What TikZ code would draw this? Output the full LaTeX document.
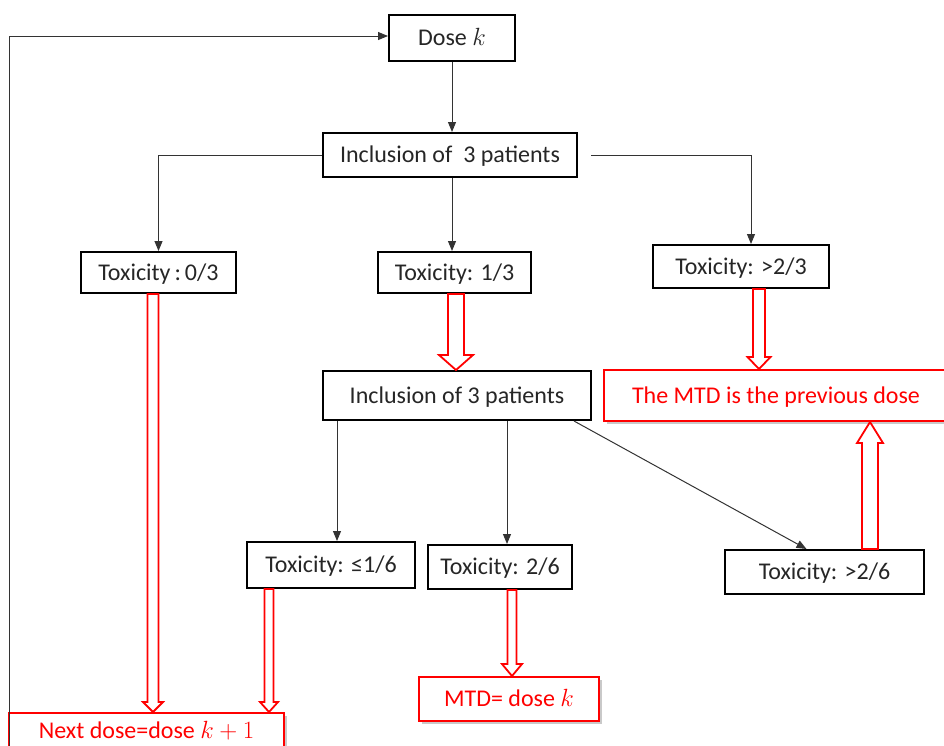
\documentclass[tikz,border=0pt]{standalone}
\usepackage{fontspec}
\setmainfont{Carlito}
\usetikzlibrary{calc,arrows.meta,shadows}
\newcommand\blockarr[5]{%
  \path[redarr] let \p1=#1, \p2=#2, \n1={\y2+ifthenelse(\y2>\y1,-1,1)*#5} in
  (\x1-#3,\y1) -- (\x1-#3,\n1) -- (\x1-#4,\n1) -- (\x1,\y2) -- (\x1+#4,\n1) -- (\x1+#3,\n1) -- (\x1+#3,\y1) -- cycle;}
\begin{document}
\begin{tikzpicture}[x=1pt,y=-1pt,
  txt/.style={font=\fontsize{24}{28}\selectfont, text height=17.5pt, text depth=2pt, inner sep=0pt},
  bbox/.style={txt, draw=black, line width=2pt, fill=white, text=black!85},
  rbox/.style={txt, draw=red, line width=2pt, fill=white, text=red,
     drop shadow={shadow xshift=3pt, shadow yshift=-3pt, opacity=0.3, fill=black!70}},
  conn/.style={draw=black!80, line width=1pt, -{Triangle[length=10pt,width=8pt]}},
  redarr/.style={draw=red, line width=1.8pt, fill=white, line join=miter}]
\useasboundingbox (0,0) rectangle (944,745);
% black boxes
\node[bbox, minimum width=126pt, minimum height=46pt] (dose) at (452,38) {Dose $k$};
\node[bbox, minimum width=254pt, minimum height=44pt] (inc1) at (450,155) {Inclusion of \ 3 patients};
\node[bbox, minimum width=155pt, minimum height=41pt] (t03) at (158.5,272.5) {Toxicity\,:\,0/3};
\node[bbox, minimum width=153pt, minimum height=41pt] (t13) at (454.5,272.5) {Toxicity: 1/3};
\node[bbox, minimum width=176pt, minimum height=43pt] (t23a) at (741,266.5) {Toxicity: >2/3};
\node[bbox, minimum width=268pt, minimum height=49pt] (inc2) at (457,395.5) {Inclusion of 3 patients};
\node[bbox, minimum width=168pt, minimum height=46pt] (tle16) at (331,565) {Toxicity: ≤1/6};
\node[bbox, minimum width=144pt, minimum height=44pt] (t26) at (500,567) {Toxicity: 2/6};
\node[bbox, minimum width=199pt, minimum height=44pt] (t26b) at (824.5,572) {Toxicity: >2/6};
% red boxes
\node[rbox, minimum width=344pt, minimum height=51pt] (mtdprev) at (776,395.5) {The MTD is the previous dose};
\node[rbox, minimum width=180pt, minimum height=44pt] (mtdk) at (509,699) {MTD= dose $k$};
\node[rbox, minimum width=275pt, minimum height=36pt] (next) at (146.5,731) {Next dose=dose $k+1$};
% black connectors
\draw[conn] (dose.south) -- (dose.south |- inc1.north);
\draw[conn] (inc1.west) -| (t03.north);
\coordinate (c13) at ($(t13.north)+(-2.5,0)$);
\draw[conn] (inc1.south -| c13) -- (c13);
\coordinate (c23) at ($(t23a.north)+(10,0)$);
\draw[conn, shorten <=13pt] (inc1.east) -| (c23);
\coordinate (cl) at ($(tle16.north)+(6,0)$);
\draw[conn] (inc2.south -| cl) -- (cl);
\coordinate (cm) at ($(t26.north)+(7,0)$);
\draw[conn] (inc2.south -| cm) -- (cm);
\coordinate (cr) at ($(t26b.north)+(-18,0)$);
\coordinate (cs) at ($(inc2.south east)+(-18,0)$);
\draw[conn] (cs) -- (cr);
\coordinate (fb) at ($(next.south west)+(1,0)$);
\draw[conn] (fb) |- ($(dose.west)+(0,-2)$);
% red block arrows
\coordinate (a1) at ($(t03.south)+(-5.5,0)$);
\blockarr{(a1)}{(a1 |- next.north)}{5.5pt}{10pt}{10pt}
\coordinate (a2) at ($(t13.south)+(1.5,0)$);
\blockarr{(a2)}{(a2 |- inc2.north)}{8pt}{17pt}{15pt}
\coordinate (a3) at ($(t23a.south)+(18,0)$);
\blockarr{(a3)}{(a3 |- mtdprev.north)}{6pt}{11.5pt}{12pt}
\coordinate (a4) at ($(t26b.north)+(45.5,0)$);
\blockarr{(a4)}{(a4 |- mtdprev.south)}{8pt}{13pt}{21pt}
\coordinate (a5) at ($(tle16.south)+(-62,0)$);
\blockarr{(a5)}{(a5 |- next.north)}{4.5pt}{9pt}{10pt}
\coordinate (a6) at ($(t26.south)+(12,0)$);
\blockarr{(a6)}{(a6 |- mtdk.north)}{4.5pt}{10pt}{12pt}
\end{tikzpicture}
\end{document}
